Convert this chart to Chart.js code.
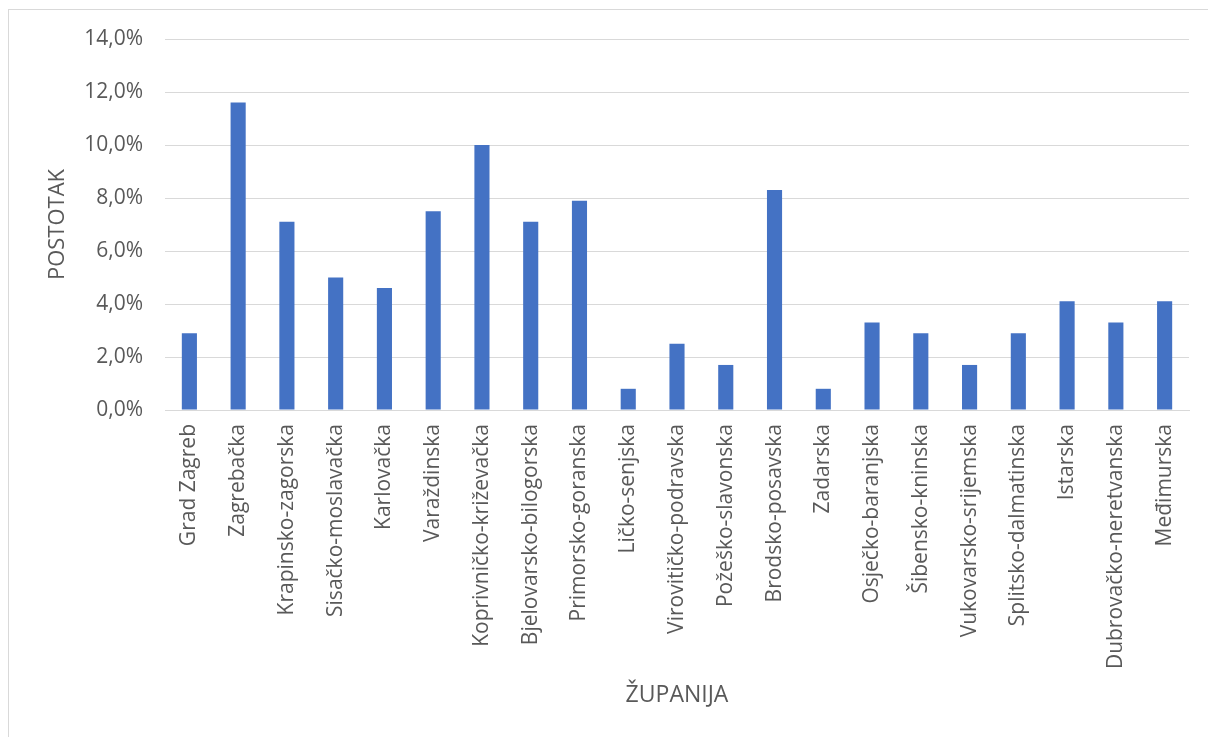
<!DOCTYPE html>
<html>
<head>
<meta charset="utf-8">
<script src="https://cdn.jsdelivr.net/npm/chart.js@4/dist/chart.umd.min.js"></script>
<style>
    html, body { margin: 0; padding: 0; background: #fff; }
    #wrap { position: relative; width: 1208px; height: 737px; overflow: hidden; }
    #frame { position: absolute; left: 8px; top: 9px; width: 1220px; height: 760px; border: 1px solid #d9d9d9; box-sizing: border-box; }
    canvas { position: absolute; left: 0; top: 0; }
</style>
</head>
<body>
<div id="wrap">
    <div id="frame"></div>
    <canvas id="chart" width="1208" height="737"></canvas>
</div>
<script>
// županije (kategorije)
const zupanije = [
    'Grad Zagreb', 'Zagrebačka', 'Krapinsko-zagorska', 'Sisačko-moslavačka', 'Karlovačka',
    'Varaždinska', 'Koprivničko-križevačka', 'Bjelovarsko-bilogorska', 'Primorsko-goranska',
    'Ličko-senjska', 'Virovitičko-podravska', 'Požeško-slavonska', 'Brodsko-posavska',
    'Zadarska', 'Osječko-baranjska', 'Šibensko-kninska', 'Vukovarsko-srijemska',
    'Splitsko-dalmatinska', 'Istarska', 'Dubrovačko-neretvanska', 'Međimurska'
];

// postotak po županiji
const postotak = [
    2.9, 11.6, 7.1, 5.0, 4.6,
    7.5, 10.0, 7.1, 7.9,
    0.8, 2.5, 1.7, 8.3,
    0.8, 3.3, 2.9, 1.7,
    2.9, 4.1, 3.3, 4.1
];

const yMin = 0;
const yMax = 14;
const yStep = 2;

const textColor = '#595959';
const fontFamily = "'Open Sans', 'Liberation Sans', sans-serif";

const ctx = document.getElementById('chart').getContext('2d');
new Chart(ctx, {
    type: 'bar',
    data: {
        labels: zupanije,
        datasets: [{
            label: 'Postotak',
            data: postotak,
            backgroundColor: '#4472C4',
            borderWidth: 0,
            barPercentage: 0.31, // uski stupci kao u Excelu
            categoryPercentage: 1
        }]
    },
    options: {
        responsive: false,
        animation: false,
        layout: {
            padding: { left: 45, right: 19, top: 39, bottom: 12 }
        },
        plugins: {
            legend: { display: false },
            tooltip: { enabled: false }
        },
        scales: {
            x: {
                grid: { display: false, drawTicks: false },
                border: { display: true, color: '#d9d9d9', width: 1 },
                ticks: {
                    color: textColor,
                    minRotation: 90,
                    maxRotation: 90,
                    autoSkip: false,
                    padding: 14,
                    font: { family: fontFamily, size: 21 }
                },
                title: {
                    display: true,
                    text: 'ŽUPANIJA',
                    color: textColor,
                    padding: { top: 0, bottom: 16 },
                    font: { family: fontFamily, size: 23 }
                },
                afterFit: scale => { scale.height = 737 - 410 - 12; }
            },
            y: {
                min: yMin,
                max: yMax,
                grid: { color: '#d9d9d9', drawTicks: false },
                border: { display: false },
                ticks: {
                    stepSize: yStep,
                    color: textColor,
                    padding: 22,
                    font: { family: fontFamily, size: 21 },
                    callback: v => v.toFixed(1).replace('.', ',') + '%'
                },
                title: {
                    display: true,
                    text: 'POSTOTAK',
                    color: textColor,
                    padding: { top: 0, bottom: 0 },
                    font: { family: fontFamily, size: 22 }
                },
                afterFit: scale => { scale.width = 165 - 45; }
            }
        }
    }
});
</script>
</body>
</html>
